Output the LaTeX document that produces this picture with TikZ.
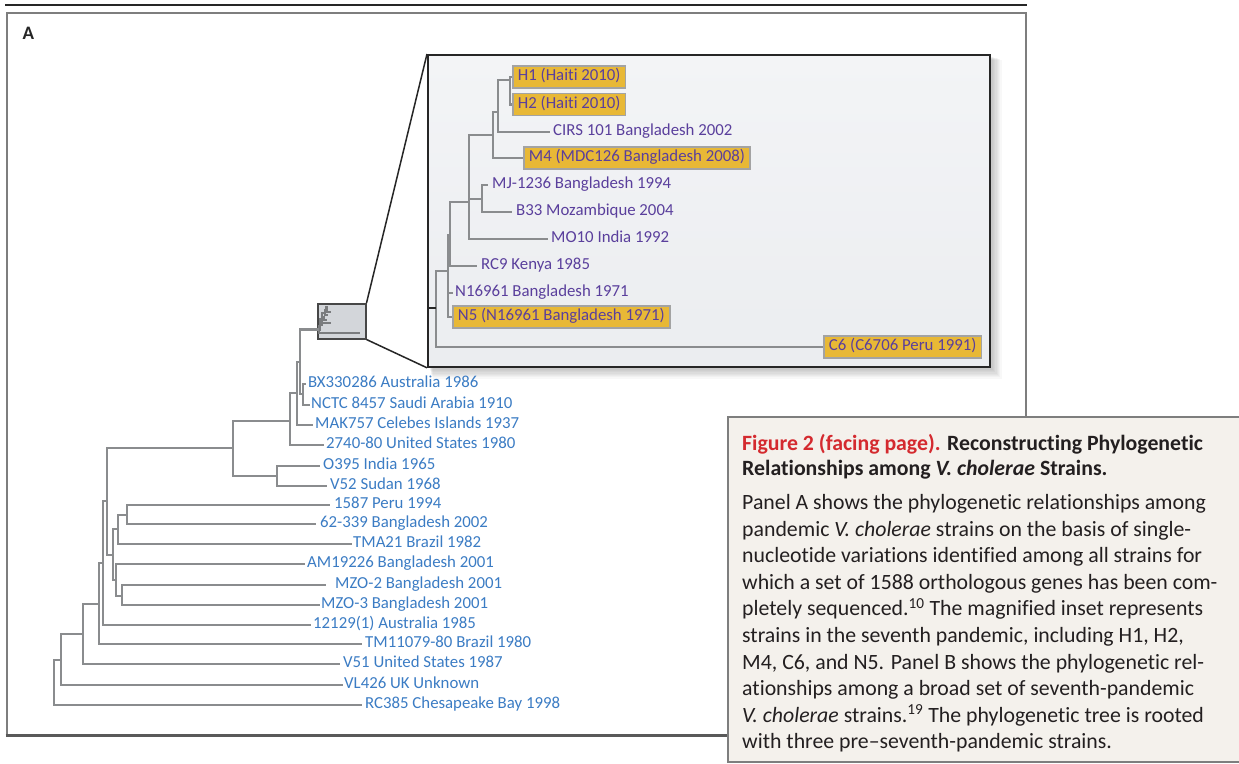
\documentclass[tikz,border=0pt]{standalone}
\usepackage{fontspec}
\setmainfont{Carlito}[Ligatures={TeX,NoCommon}, Contextuals={NoAlternate}]
\definecolor{treegray}{HTML}{8A8C8E}
\definecolor{thumbgray}{HTML}{7A7C7E}
\definecolor{leafblue}{HTML}{3B7CC4}
\definecolor{leafpurple}{HTML}{5A3F9C}
\definecolor{hlfill}{HTML}{E8B836}
\definecolor{hlrule}{HTML}{A3A3A3}
\definecolor{insettop}{HTML}{F3F4F6}
\definecolor{insetbot}{HTML}{EBEDF0}
\definecolor{zoomfill}{HTML}{D3D6DA}
\definecolor{capbg}{HTML}{F4F1EC}
\definecolor{capred}{HTML}{D42A2F}
\definecolor{capink}{HTML}{231F20}
\definecolor{framegray}{HTML}{7E7E7E}
\definecolor{darkrule}{HTML}{262626}

% branches of the seventh-pandemic subtree (drawn full size and as a thumbnail)
\newcommand\insetbranches[1]{%
  \coordinate (#1-root) at (436,308);
  \coordinate (#1-nn)   at (448,271);
  \coordinate (#1-nrc)  at (450,235);
  \coordinate (#1-nmo)  at (469,202);
  \coordinate (#1-nmj)  at (482,199);
  \coordinate (#1-nm)   at (493,135);
  \coordinate (#1-nh)   at (498,112);
  \coordinate (#1-hn)   at (510,80);
  \coordinate (#1-h1)   at (512,77);
  \coordinate (#1-h2)   at (512,104.5);
  \coordinate (#1-cirs) at (550,132);
  \coordinate (#1-m4)   at (523,158);
  \coordinate (#1-mj)   at (488,185);
  \coordinate (#1-b33)  at (512,212);
  \coordinate (#1-mo10) at (548,239);
  \coordinate (#1-rc9)  at (477,266);
  \coordinate (#1-n169) at (453,293);
  \coordinate (#1-n5)   at (452,317);
  \coordinate (#1-c6)   at (823,347);
  \draw[ibranch]
    (#1-root) |- (#1-nn)   (#1-root) |- (#1-c6)
    (#1-nn)   |- (#1-nrc)  (#1-nn)   |- (#1-n169)  (#1-nn) |- (#1-n5)
    (#1-nrc)  |- (#1-nmo)  (#1-nrc)  |- (#1-rc9)
    (#1-nmo)  |- (#1-nm)   (#1-nmo)  |- (#1-nmj)   (#1-nmo) |- (#1-mo10)
    (#1-nmj)  |- (#1-mj)   (#1-nmj)  |- (#1-b33)
    (#1-nm)   |- (#1-nh)   (#1-nm)   |- (#1-m4)
    (#1-nh)   |- (#1-hn)   (#1-nh)   |- (#1-cirs)
    (#1-hn)   |- (#1-h1)   (#1-hn)   |- (#1-h2);
}

\begin{document}
\begin{tikzpicture}[x=1pt,y=-1pt,
  tbranch/.style={draw=treegray, line width=2.6pt},
  ibranch/.style={draw=treegray, line width=2.6pt},
  leafA/.style={anchor=west, inner xsep=0pt, inner ysep=0pt, text=leafblue,
    font=\fontsize{16.8}{18}\selectfont, text height=11pt, text depth=3.4pt},
  leafB/.style={leafA, text=leafpurple},
  hilite/.style={leafB, fill=hlfill, draw=hlrule, line width=1.8pt,
    inner xsep=5pt, inner ysep=3.8pt},
  zoomline/.style={draw=darkrule, line width=1.5pt},
  captext/.style={anchor=base west, inner sep=0pt, text=capink,
    font=\fontsize{21.8}{26}\selectfont}]

\fill[white] (0,0) rectangle (1239,763);
\useasboundingbox (0,0) rectangle (1239,763);

% page rule and panel frame
\draw[darkrule, line width=2.2pt] (5,5) -- (1027,5);
\draw[framegray, line width=2pt] (6.5,12.5) rectangle (1025.5,735);
\draw[black!65, line width=3pt] (5.5,735) -- (1026.5,735);
\node[anchor=base west, inner sep=0pt, text=darkrule,
  font=\bfseries\fontsize{19}{20}\selectfont] (panelA) at (22.5,39.5) {A};

% soft shadow under the magnified inset
\foreach \k in {1,...,9}
  \fill[black, opacity=0.028] (429+0.4*\k,56+0.4*\k) rectangle (990+1.3*\k,367+1.3*\k);

% magnified inset and the thumbnail it enlarges
\node[draw=darkrule, line width=1.8pt, top color=insettop, bottom color=insetbot,
  minimum width=562pt, minimum height=312pt, anchor=north west, inner sep=0pt]
  (inset) at (427,54) {};
\node[draw=black!72, line width=1.5pt, fill=zoomfill, minimum width=48pt,
  minimum height=35pt, anchor=north west, inner sep=0pt] (zoombox) at (317,303) {};
\draw[zoomline] (zoombox.north east) -- (inset.north west);
\draw[zoomline] (zoombox.south east) -- (inset.south west);

\begin{scope}[shift={(319,307)}, xscale=0.107, yscale=0.096, shift={(-437,-76)},
  ibranch/.style={draw=thumbgray, line width=2pt}]
  \insetbranches{m}
\end{scope}

% full-size subtree inside the inset
\insetbranches{i}
\draw[darkrule, line width=1.8pt] (i-root -| inset.west) -- (i-root);

\node[hilite] (h1)   at (i-h1)  {H1 (Haiti 2010)};
\node[hilite] (h2)   at (i-h2)  {H2 (Haiti 2010)};
\node[leafB]  (cirs) at (553,132) {CIRS 101 Bangladesh 2002};
\node[hilite] (m4)   at (i-m4)  {M4 (MDC126 Bangladesh 2008)};
\node[leafB]  (mj)   at (492,185) {MJ-1236 Bangladesh 1994};
\node[leafB]  (b33)  at (516,212) {B33 Mozambique 2004};
\node[leafB]  (mo10) at (551,239) {MO10 India 1992};
\node[leafB]  (rc9)  at (481,266) {RC9 Kenya 1985};
\node[leafB]  (n169) at (455,293) {N16961 Bangladesh 1971};
\node[hilite] (n5)   at (i-n5)  {N5 (N16961 Bangladesh 1971)};
\node[hilite] (c6)   at (i-c6)  {C6 (C6706 Peru 1991)};

% main tree: internal nodes
\coordinate (n4)  at (303,394);
\coordinate (n3)  at (300,362);
\coordinate (n2)  at (297,393);
\coordinate (n1)  at (290,421);
\coordinate (nO)  at (277,476);
\coordinate (nA)  at (233,448);
\coordinate (nPe) at (127,515);
\coordinate (nS)  at (118,529);
\coordinate (nU)  at (122,596);
\coordinate (nT)  at (116,580);
\coordinate (nR)  at (113,555);
\coordinate (nQ)  at (107,501);
\coordinate (nP)  at (103,563);
\coordinate (nV)  at (99,604);
\coordinate (nW)  at (83,634);
\coordinate (nX)  at (61,660);
\coordinate (nY)  at (54,680);

% main tree: branch tips
\coordinate (tbx)   at (306,384);
\coordinate (tnctc) at (310,405);
\coordinate (tmak)  at (313,425);
\coordinate (tus)   at (324,445);
\coordinate (to395) at (320,466);
\coordinate (tv52)  at (327,486);
\coordinate (tperu) at (330,505);
\coordinate (tb62)  at (316,524);
\coordinate (ttma)  at (352,544);
\coordinate (tam)   at (305,564);
\coordinate (tmzo2) at (326,585);
\coordinate (tmzo3) at (320,605);
\coordinate (t121)  at (311,625);
\coordinate (ttm)   at (362,644);
\coordinate (tv51)  at (340,664);
\coordinate (tvl)   at (343,685);
\coordinate (trc)   at (362,705);

\node[leafA] (bx)   at (308,384) {BX330286 Australia 1986};
\node[leafA] (nctc) at (311,405) {NCTC 8457 Saudi Arabia 1910};
\node[leafA] (mak)  at (315,425) {MAK757 Celebes Islands 1937};
\node[leafA] (us)   at (326,445) {2740-80 United States 1980};
\node[leafA] (o395) at (323,466) {O395 India 1965};
\node[leafA] (v52)  at (330,486) {V52 Sudan 1968};
\node[leafA] (peru) at (334,505) {1587 Peru 1994};
\node[leafA] (b62)  at (320,524) {62-339 Bangladesh 2002};
\node[leafA] (tma)  at (353,544) {TMA21 Brazil 1982};
\node[leafA] (am)   at (307,564) {AM19226 Bangladesh 2001};
\node[leafA] (mzo2) at (335,585) {MZO-2 Bangladesh 2001};
\node[leafA] (mzo3) at (321,605) {MZO-3 Bangladesh 2001};
\node[leafA] (l121) at (313,625) {12129(1) Australia 1985};
\node[leafA] (tm)   at (365,644) {TM11079-80 Brazil 1980};
\node[leafA] (v51)  at (343,664) {V51 United States 1987};
\node[leafA] (vl)   at (344,685) {VL426 UK Unknown};
\node[leafA] (rc)   at (365,705) {RC385 Chesapeake Bay 1998};

\draw[tbranch]
  (n4) |- (tbx)   (n4) |- (tnctc)
  (n3) |- (m-root) (n3) |- (n4)
  (n2) |- (n3)    (n2) |- (tmak)
  (n1) |- (n2)    (n1) |- (tus)
  (nO) |- (to395) (nO) |- (tv52)
  (nA) |- (n1)    (nA) |- (nO)
  (nPe) |- (tperu) (nPe) |- (tb62)
  (nS) |- (nPe)   (nS) |- (ttma)
  (nU) |- (tmzo2) (nU) |- (tmzo3)
  (nT) |- (tam)   (nT) |- (nU)
  (nR) |- (nS)    (nR) |- (nT)
  (nQ) |- (nA)    (nQ) |- (nR)
  (nP) |- (nQ)    (nP) |- (t121)
  (nV) |- (nP)    (nV) |- (ttm)
  (nW) |- (nV)    (nW) |- (tv51)
  (nX) |- (nW)    (nX) |- (tvl)
  (nY) |- (nX)    (nY) |- (trc);

% caption box
\node[draw=framegray, line width=2pt, fill=capbg, anchor=north west,
  minimum width=540pt, minimum height=345pt, inner sep=0pt] (capbox) at (727,416) {};
\node[captext] (cap1)  at (742,450) {\textbf{\textcolor{capred}{Figure 2 (facing page).} Reconstructing Phylogenetic}};
\node[captext] (cap2)  at (742,475) {\textbf{Relationships among \textit{V. cholerae} Strains.}};
\node[captext] (cap3)  at (742,509.5) {Panel A shows the phylogenetic relationships among};
\node[captext] (cap4)  at (742,536) {pandemic \textit{V. cholerae} strains on the basis of single-};
\node[captext] (cap5)  at (742,562.5) {nucleotide variations identified among all strains for};
\node[captext] (cap6)  at (742,589) {which a set of 1588 orthologous genes has been com-};
\node[captext] (cap7)  at (742,615.7) {pletely sequenced.\textsuperscript{10} The magnified inset represents};
\node[captext] (cap8)  at (742,642.3) {strains in the seventh pandemic, including H1, H2,};
\node[captext] (cap9)  at (742,669) {M4, C6, and N5. Panel B shows the phylogenetic rel-};
\node[captext] (cap10) at (742,695.5) {ationships among a broad set of seventh-pandemic};
\node[captext] (cap11) at (742,722) {\textit{V. cholerae} strains.\textsuperscript{19} The phylogenetic tree is rooted};
\node[captext] (cap12) at (742,748.5) {with three pre--seventh-pandemic strains.};
\end{tikzpicture}
\end{document}
